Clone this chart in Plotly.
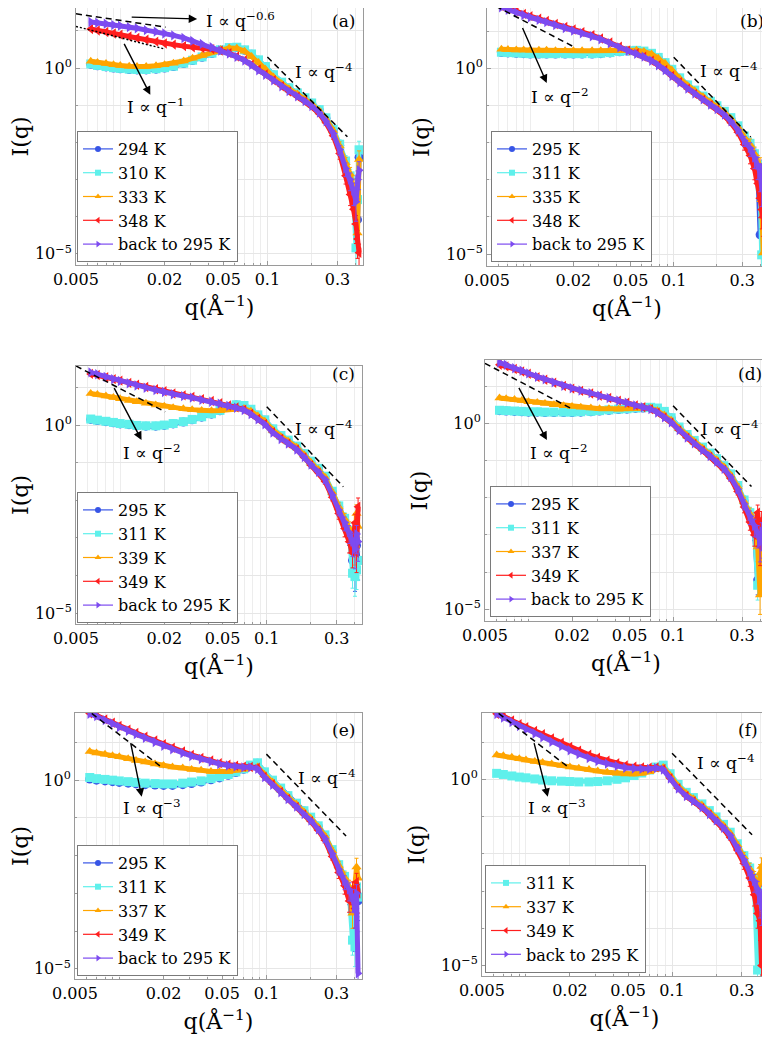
import math
import plotly.graph_objects as go

q = [0.0063, 0.007, 0.008, 0.009, 0.010, 0.0115, 0.013, 0.015, 0.0175, 0.020,
     0.023, 0.027, 0.031, 0.036, 0.042, 0.048, 0.055, 0.062, 0.070, 0.078,
     0.087, 0.097, 0.11, 0.125, 0.14, 0.16, 0.18, 0.20, 0.225, 0.25,
     0.28, 0.31, 0.34, 0.365, 0.385, 0.40, 0.41, 0.42]
rel_err = [0.05, 0.05, 0.05, 0.05, 0.05, 0.05, 0.05, 0.05, 0.05, 0.05,
           0.05, 0.05, 0.05, 0.05, 0.05, 0.05, 0.05, 0.05, 0.05, 0.05,
           0.05, 0.05, 0.06, 0.06, 0.07, 0.08, 0.09, 0.10, 0.12, 0.15,
           0.20, 0.30, 0.40, 0.50, 0.60, 0.70, 0.70, 0.70]

# panel (a)
a_labels = ["294 K", "310 K", "333 K", "348 K", "back to 295 K"]
a_294 = [0.10, 0.06, 0.03, 0.00, -0.02, -0.04, -0.05, -0.05, -0.03, 0.00, 0.04, 0.12, 0.20, 0.29, 0.39, 0.48, 0.54, 0.55, 0.48, 0.37, 0.21,
         0.03, -0.19, -0.39, -0.54, -0.68, -0.81, -0.95, -1.13, -1.35, -1.67, -2.08, -2.55, -3.00, -3.40, -3.20, -4.08, -2.40]
a_310 = [0.11, 0.07, 0.04, 0.01, -0.01, -0.03, -0.04, -0.04, -0.02, 0.01, 0.05, 0.13, 0.21, 0.30, 0.40, 0.49, 0.55, 0.56, 0.49, 0.38, 0.22,
         0.04, -0.18, -0.38, -0.53, -0.67, -0.80, -0.94, -1.12, -1.34, -1.65, -2.05, -2.50, -2.90, -3.30, -4.84, -3.54, -2.20]
a_333 = [0.18, 0.15, 0.12, 0.09, 0.07, 0.05, 0.04, 0.04, 0.06, 0.09, 0.13, 0.19, 0.26, 0.34, 0.43, 0.50, 0.54, 0.53, 0.45, 0.31, 0.15,
         -0.03, -0.24, -0.42, -0.56, -0.70, -0.83, -0.97, -1.15, -1.37, -1.68, -2.10, -2.55, -2.85, -3.20, -3.50, -4.44, -2.46]
a_348 = [1.05, 1.01, 0.97, 0.93, 0.90, 0.85, 0.81, 0.76, 0.71, 0.66, 0.63, 0.59, 0.56, 0.54, 0.51, 0.47, 0.40, 0.31, 0.21, 0.09, -0.04,
         -0.17, -0.33, -0.49, -0.63, -0.77, -0.90, -1.04, -1.23, -1.47, -1.82, -2.30, -2.90, -3.40, -3.80, -4.20, -4.60, -4.97]
a_back = [1.24, 1.22, 1.19, 1.16, 1.14, 1.10, 1.07, 1.02, 0.98, 0.93, 0.88, 0.81, 0.73, 0.65, 0.56, 0.47, 0.39, 0.30, 0.20, 0.09, -0.06,
          -0.18, -0.33, -0.49, -0.62, -0.76, -0.89, -1.02, -1.20, -1.43, -1.76, -2.20, -2.70, -3.00, -3.30, -3.60, -3.00, -2.75]

# panel (b)
b_labels = ["295 K", "311 K", "335 K", "348 K", "back to 295 K"]
b_295 = [0.42, 0.41, 0.40, 0.39, 0.38, 0.38, 0.38, 0.38, 0.38, 0.38, 0.38, 0.38, 0.39, 0.41, 0.44, 0.46, 0.47, 0.45, 0.39, 0.28, 0.14,
         -0.04, -0.27, -0.46, -0.60, -0.76, -0.90, -1.02, -1.17, -1.35, -1.58, -1.86, -2.08, -2.35, -2.70, -4.48, -3.20, -2.90]
b_311 = [0.43, 0.42, 0.41, 0.40, 0.39, 0.39, 0.39, 0.39, 0.39, 0.39, 0.39, 0.39, 0.40, 0.42, 0.45, 0.47, 0.48, 0.46, 0.40, 0.29, 0.15,
         -0.03, -0.26, -0.45, -0.59, -0.75, -0.89, -1.01, -1.16, -1.33, -1.55, -1.82, -2.02, -2.30, -2.60, -3.18, -5.02, -3.54]
b_335 = [0.51, 0.50, 0.49, 0.49, 0.48, 0.48, 0.48, 0.47, 0.47, 0.47, 0.47, 0.47, 0.47, 0.47, 0.48, 0.49, 0.48, 0.45, 0.38, 0.27, 0.13,
         -0.05, -0.28, -0.47, -0.61, -0.77, -0.91, -1.03, -1.18, -1.36, -1.58, -1.86, -2.05, -2.30, -2.55, -2.64, -3.54, -4.97]
b_348 = [1.67, 1.60, 1.53, 1.46, 1.40, 1.33, 1.27, 1.19, 1.11, 1.04, 0.97, 0.89, 0.80, 0.69, 0.58, 0.48, 0.40, 0.31, 0.20, 0.08, -0.05,
         -0.21, -0.38, -0.55, -0.69, -0.85, -0.99, -1.12, -1.28, -1.47, -1.72, -2.05, -2.35, -2.70, -3.10, -3.50, -3.80, -4.00]
b_back = [1.64, 1.57, 1.50, 1.43, 1.37, 1.30, 1.24, 1.16, 1.08, 1.01, 0.94, 0.86, 0.78, 0.67, 0.56, 0.47, 0.39, 0.31, 0.20, 0.08, -0.05,
          -0.21, -0.38, -0.55, -0.68, -0.84, -0.98, -1.10, -1.25, -1.43, -1.66, -1.95, -2.15, -2.40, -2.60, -2.80, -3.20, -2.70]

# panel (c)
c_labels = ["295 K", "311 K", "339 K", "349 K", "back to 295 K"]
c_295 = [0.15, 0.12, 0.09, 0.06, 0.03, 0.01, -0.02, -0.03, -0.03, -0.01, 0.03, 0.08, 0.14, 0.21, 0.29, 0.38, 0.47, 0.53, 0.51, 0.41, 0.26,
         0.13, -0.11, -0.29, -0.41, -0.57, -0.77, -0.97, -1.16, -1.37, -1.78, -2.18, -2.52, -2.90, -3.60, -3.90, -3.20, -3.60]
c_311 = [0.16, 0.13, 0.10, 0.07, 0.04, 0.02, -0.01, -0.02, -0.02, 0.00, 0.04, 0.09, 0.15, 0.22, 0.30, 0.39, 0.48, 0.54, 0.52, 0.42, 0.27,
         0.14, -0.10, -0.28, -0.40, -0.56, -0.76, -0.96, -1.15, -1.36, -1.76, -2.15, -2.48, -2.80, -3.94, -4.03, -3.85, -3.60]
c_339 = [0.84, 0.81, 0.77, 0.73, 0.70, 0.65, 0.62, 0.58, 0.53, 0.50, 0.46, 0.43, 0.41, 0.39, 0.38, 0.39, 0.42, 0.44, 0.44, 0.37, 0.24,
         0.10, -0.13, -0.31, -0.43, -0.59, -0.79, -0.99, -1.18, -1.39, -1.79, -2.18, -2.50, -2.75, -2.96, -3.20, -2.35, -2.70]
c_349 = [1.36, 1.33, 1.27, 1.22, 1.18, 1.12, 1.07, 1.01, 0.95, 0.90, 0.84, 0.79, 0.75, 0.69, 0.64, 0.58, 0.52, 0.47, 0.41, 0.30, 0.16,
         0.03, -0.19, -0.36, -0.49, -0.65, -0.86, -1.07, -1.27, -1.50, -1.92, -2.35, -2.75, -3.10, -3.40, -2.60, -3.40, -2.17]
c_back = [1.40, 1.35, 1.28, 1.22, 1.17, 1.11, 1.05, 0.99, 0.93, 0.88, 0.82, 0.77, 0.73, 0.67, 0.62, 0.57, 0.51, 0.46, 0.40, 0.29, 0.15,
          0.02, -0.20, -0.37, -0.49, -0.65, -0.85, -1.05, -1.24, -1.45, -1.86, -2.26, -2.59, -2.85, -3.10, -3.30, -2.90, -3.10]

# panel (d)
d_labels = ["295 K", "311 K", "337 K", "349 K", "back to 295 K"]
d_295 = [0.34, 0.33, 0.32, 0.31, 0.30, 0.30, 0.29, 0.29, 0.29, 0.29, 0.30, 0.31, 0.33, 0.35, 0.37, 0.38, 0.40, 0.41, 0.42, 0.40, 0.31,
         0.14, -0.11, -0.31, -0.47, -0.65, -0.81, -0.96, -1.15, -1.37, -1.69, -2.09, -2.45, -2.85, -4.21, -3.50, -3.30, -3.00]
d_311 = [0.35, 0.34, 0.33, 0.32, 0.31, 0.31, 0.30, 0.30, 0.30, 0.30, 0.31, 0.32, 0.34, 0.36, 0.38, 0.39, 0.41, 0.42, 0.43, 0.41, 0.32,
         0.15, -0.10, -0.30, -0.46, -0.64, -0.80, -0.95, -1.14, -1.36, -1.67, -2.06, -2.40, -2.78, -4.35, -4.03, -3.14, -3.40]
d_337 = [0.68, 0.66, 0.64, 0.61, 0.58, 0.56, 0.53, 0.50, 0.47, 0.45, 0.43, 0.41, 0.39, 0.39, 0.38, 0.39, 0.40, 0.42, 0.41, 0.34, 0.22,
         0.08, -0.13, -0.33, -0.49, -0.67, -0.83, -0.98, -1.17, -1.39, -1.70, -2.10, -2.42, -2.70, -3.32, -4.61, -2.78, -3.00]
d_349 = [1.57, 1.53, 1.46, 1.39, 1.33, 1.24, 1.17, 1.09, 1.00, 0.93, 0.87, 0.80, 0.74, 0.68, 0.61, 0.55, 0.48, 0.43, 0.38, 0.29, 0.16,
         0.02, -0.19, -0.39, -0.55, -0.73, -0.90, -1.05, -1.25, -1.48, -1.83, -2.25, -2.65, -3.00, -2.40, -3.30, -2.60, -2.80]
d_back = [1.63, 1.57, 1.48, 1.41, 1.34, 1.25, 1.18, 1.10, 1.01, 0.94, 0.88, 0.81, 0.74, 0.68, 0.61, 0.55, 0.48, 0.43, 0.38, 0.29, 0.16,
          0.03, -0.18, -0.38, -0.54, -0.72, -0.88, -1.03, -1.22, -1.44, -1.77, -2.17, -2.50, -2.75, -2.95, -3.20, -2.90, -3.10]

# panel (e)
e_labels = ["295 K", "311 K", "337 K", "349 K", "back to 295 K"]
e_295 = [0.03, 0.00, -0.02, -0.04, -0.06, -0.08, -0.10, -0.12, -0.13, -0.14, -0.14, -0.12, -0.09, -0.05, 0.01, 0.06, 0.13, 0.20, 0.29, 0.39, 0.45,
         0.21, -0.01, -0.22, -0.42, -0.62, -0.82, -0.99, -1.22, -1.47, -1.87, -2.28, -2.62, -3.00, -3.50, -4.02, -3.00, -3.20]
e_311 = [0.07, 0.04, 0.02, 0.00, -0.02, -0.04, -0.06, -0.08, -0.09, -0.10, -0.10, -0.08, -0.05, -0.02, 0.04, 0.09, 0.15, 0.22, 0.30, 0.40, 0.46,
         0.22, 0.00, -0.21, -0.41, -0.61, -0.81, -0.98, -1.21, -1.45, -1.84, -2.24, -2.55, -2.90, -4.24, -4.42, -2.83, -3.10]
e_337 = [0.76, 0.72, 0.69, 0.65, 0.62, 0.57, 0.52, 0.48, 0.43, 0.39, 0.35, 0.32, 0.28, 0.26, 0.23, 0.22, 0.23, 0.26, 0.29, 0.33, 0.35,
         0.15, -0.05, -0.25, -0.44, -0.64, -0.84, -1.01, -1.24, -1.48, -1.87, -2.27, -2.58, -2.83, -3.53, -2.83, -2.30, -2.60]
e_349 = [1.77, 1.72, 1.61, 1.52, 1.44, 1.34, 1.25, 1.15, 1.05, 0.95, 0.86, 0.76, 0.67, 0.59, 0.52, 0.45, 0.41, 0.38, 0.36, 0.35, 0.33,
         0.09, -0.11, -0.31, -0.50, -0.71, -0.91, -1.09, -1.33, -1.59, -2.02, -2.45, -2.80, -3.20, -2.90, -3.40, -2.70, -3.00]
e_back = [1.76, 1.70, 1.59, 1.50, 1.41, 1.31, 1.22, 1.12, 1.01, 0.91, 0.82, 0.72, 0.64, 0.56, 0.49, 0.43, 0.39, 0.36, 0.34, 0.34, 0.30,
          0.08, -0.12, -0.32, -0.50, -0.70, -0.90, -1.07, -1.30, -1.55, -1.95, -2.36, -2.68, -2.90, -3.10, -3.40, -3.00, -5.12]

# panel (f)
f_labels = ["311 K", "337 K", "349 K", "back to 295 K"]
f_311 = [0.16, 0.13, 0.09, 0.06, 0.04, 0.01, -0.02, -0.04, -0.05, -0.06, -0.07, -0.07, -0.06, -0.04, 0.00, 0.04, 0.10, 0.17, 0.25, 0.33, 0.38,
         0.15, -0.14, -0.35, -0.49, -0.66, -0.84, -1.01, -1.21, -1.42, -1.73, -2.05, -2.38, -2.70, -5.12, -3.60, -2.70, -3.00]
f_337 = [0.65, 0.63, 0.59, 0.55, 0.52, 0.48, 0.45, 0.41, 0.37, 0.33, 0.30, 0.26, 0.22, 0.19, 0.16, 0.14, 0.14, 0.16, 0.20, 0.27, 0.32,
         0.10, -0.18, -0.38, -0.52, -0.69, -0.87, -1.04, -1.24, -1.45, -1.76, -2.08, -2.40, -2.65, -3.06, -2.52, -2.34, -2.80]
f_349 = [1.76, 1.70, 1.58, 1.48, 1.40, 1.30, 1.21, 1.10, 0.98, 0.87, 0.77, 0.66, 0.58, 0.50, 0.43, 0.37, 0.34, 0.32, 0.31, 0.32, 0.28,
         0.03, -0.24, -0.45, -0.59, -0.77, -0.95, -1.13, -1.34, -1.56, -1.90, -2.26, -2.65, -3.10, -3.60, -3.80, -5.00, -3.50]
f_back = [1.75, 1.66, 1.54, 1.43, 1.34, 1.23, 1.13, 1.01, 0.89, 0.78, 0.68, 0.57, 0.49, 0.42, 0.36, 0.31, 0.29, 0.28, 0.28, 0.30, 0.26,
          0.02, -0.25, -0.45, -0.58, -0.75, -0.93, -1.10, -1.30, -1.51, -1.83, -2.16, -2.49, -2.73, -2.95, -3.20, -3.40, -3.10]

# guide lines (q endpoints, log10 I endpoints)
guide_a_low1_q = [0.005, 0.0203]; guide_a_low1_I = [1.46, 1.10]   # q^-0.6
guide_a_low2_q = [0.005, 0.0197]; guide_a_low2_I = [1.12, 0.52]   # q^-1
guide_b_low_q = [0.005, 0.020];   guide_b_low_I = [1.79, 0.58]
guide_c_low_q = [0.005, 0.0203];  guide_c_low_I = [1.57, 0.354]
guide_d_low_q = [0.005, 0.0197];  guide_d_low_I = [1.61, 0.40]
guide_e_low_q = [0.0065, 0.0199]; guide_e_low_I = [1.77, 0.31]
guide_f_low_q = [0.0065, 0.0196]; guide_f_low_I = [1.77, 0.32]
guide_hi_q = {"a": [0.1, 0.35], "b": [0.1, 0.344], "c": [0.1, 0.333],
              "d": [0.1, 0.349], "e": [0.1, 0.348], "f": [0.1, 0.353]}
guide_hi_I = {"a": [0.296, -1.85], "b": [0.296, -1.85], "c": [0.487, -1.64],
              "d": [0.47, -1.70], "e": [0.69, -1.48], "f": [0.70, -1.49]}

# arrows: (tail q, tail logI, head q, head logI)
arrows = {"a": [(0.01168, 1.37, 0.0333, 1.32), (0.0105, 0.69, 0.016, -0.72)],
          "b": [(0.00875, 1.12, 0.01304, -0.40)],
          "c": [(0.009, 1.02, 0.014, -0.40)],
          "d": [(0.00847, 0.99, 0.0134, -0.45)],
          "e": [(0.0119, 1.02, 0.0142, -0.44)],
          "f": [(0.0113, 1.01, 0.0141, -0.47)]}
# labels: (text, q, logI, xanchor)
texts = {"a": [("I ∝ q<sup>−0.6</sup>", 0.037, 1.29, "left"), ("I ∝ q<sup>−1</sup>", 0.0173, -1.03, "center"),
               ("I ∝ q<sup>−4</sup>", 0.15, -0.09, "left")],
         "b": [("I ∝ q<sup>−2</sup>", 0.0161, -0.76, "center"), ("I ∝ q<sup>−4</sup>", 0.147, -0.045, "left")],
         "c": [("I ∝ q<sup>−2</sup>", 0.0164, -0.71, "center"), ("I ∝ q<sup>−4</sup>", 0.152, -0.09, "left")],
         "d": [("I ∝ q<sup>−2</sup>", 0.0160, -0.76, "center"), ("I ∝ q<sup>−4</sup>", 0.150, -0.13, "left")],
         "e": [("I ∝ q<sup>−3</sup>", 0.0166, -0.71, "center"), ("I ∝ q<sup>−4</sup>", 0.159, 0.09, "left")],
         "f": [("I ∝ q<sup>−3</sup>", 0.0163, -0.73, "center"), ("I ∝ q<sup>−4</sup>", 0.144, 0.47, "left")]}

# ---------------- styles ----------------
COL = {"blue": "rgb(55,85,230)", "cyan": "rgb(95,240,235)", "orange": "rgb(255,165,0)",
       "red": "rgb(255,30,30)", "purple": "rgb(125,75,240)"}
SYM = {"blue": "circle", "cyan": "square", "orange": "triangle-up",
       "red": "triangle-left", "purple": "triangle-right"}
FONT = "DejaVu Serif, serif"

# panel boxes in page pixels (left, right, top, bottom), y range, legend corner (left, bottom),
# panel-letter centre (x, y)
panels = [
    ("a", a_labels, [a_294, a_310, a_333, a_348, a_back], ["blue", "cyan", "orange", "red", "purple"],
     (76, 363, 3, 265), (-5.30, 1.75), (77, 262), (343, 21)),
    ("b", b_labels, [b_295, b_311, b_335, b_348, b_back], ["blue", "cyan", "orange", "red", "purple"],
     (487, 767, 2, 266), (-5.32, 1.78), (491, 262), (752, 21)),
    ("c", c_labels, [c_295, c_311, c_339, c_349, c_back], ["blue", "cyan", "orange", "red", "purple"],
     (76, 362, 366, 624), (-5.29, 1.57), (77, 623), (343, 374)),
    ("d", d_labels, [d_295, d_311, d_337, d_349, d_back], ["blue", "cyan", "orange", "red", "purple"],
     (485, 767, 360, 621), (-5.31, 1.70), (490, 617), (750, 374)),
    ("e", e_labels, [e_295, e_311, e_337, e_349, e_back], ["blue", "cyan", "orange", "red", "purple"],
     (75, 362, 713, 979), (-5.27, 1.78), (77, 976), (343, 730)),
    ("f", f_labels, [f_311, f_337, f_349, f_back], ["cyan", "orange", "red", "purple"],
     (482, 767, 713, 976), (-5.28, 1.78), (485, 973), (748, 730)),
]
DASH = "6px,4px"
low_guides = {"a": [(guide_a_low1_q, guide_a_low1_I, DASH), (guide_a_low2_q, guide_a_low2_I, "2px,2px")],
              "b": [(guide_b_low_q, guide_b_low_I, DASH)],
              "c": [(guide_c_low_q, guide_c_low_I, DASH)],
              "d": [(guide_d_low_q, guide_d_low_I, DASH)],
              "e": [(guide_e_low_q, guide_e_low_I, DASH)],
              "f": [(guide_f_low_q, guide_f_low_I, DASH)]}

OFF = 8                      # page body margin of the browser
W, H = 770 - OFF, 1040 - OFF
x_minor = [0.006, 0.007, 0.008, 0.009, 0.01, 0.03, 0.04, 0.06, 0.07, 0.08, 0.09, 0.2, 0.4]
fig = go.Figure()
layout = dict(width=W, height=H, margin=dict(l=0, r=0, t=0, b=0, autoexpand=False),
              paper_bgcolor="white", plot_bgcolor="white",
              font=dict(family=FONT, color="black"), showlegend=True)
annotations = []

for i, (key, labels, series, colors, box, yr, leg, tag) in enumerate(panels, start=1):
    xa = "x" if i == 1 else f"x{i}"
    ya = "y" if i == 1 else f"y{i}"
    lg = "legend" if i == 1 else f"legend{i}"
    for lab, vals, c in zip(labels, series, colors):
        I = [10 ** v for v in vals]
        err = [a * b for a, b in zip(I, rel_err)]
        fig.add_trace(go.Scatter(
            x=q, y=I, name=lab, mode="lines+markers", xaxis=xa, yaxis=ya, showlegend=False,
            line=dict(color=COL[c], width=5),
            marker=dict(symbol=SYM[c], size=9, color=COL[c]),
            error_y=dict(type="data", array=err, color=COL[c], thickness=1, width=2)))
    for lab, c in zip(labels, colors):           # legend keys (thin line + small marker)
        fig.add_trace(go.Scatter(
            x=[None], y=[None], name=lab, mode="lines+markers", xaxis=xa, yaxis=ya, legend=lg,
            line=dict(color=COL[c], width=1.2), marker=dict(symbol=SYM[c], size=6, color=COL[c])))
    for gq, gI, dash in low_guides[key] + [(guide_hi_q[key], guide_hi_I[key], DASH)]:
        fig.add_trace(go.Scatter(x=gq, y=[10 ** v for v in gI], mode="lines", xaxis=xa, yaxis=ya,
                                 showlegend=False, hoverinfo="skip",
                                 line=dict(color="black", width=1.5, dash=dash)))
    x0, x1, y0, y1 = [v - OFF for v in box]
    ylo, yhi = yr
    ppd = (y1 - y0) / (yhi - ylo)
    if y0 < 0:                       # clip at the top of the page, keep the scale
        yhi = yhi + y0 / ppd
        y0 = 0
    axcommon = dict(showline=True, mirror=True, linecolor="#9a9a9a", linewidth=1,
                    ticks="inside", ticklen=4, tickcolor="#9a9a9a", zeroline=False,
                    showgrid=True, gridcolor="#e6e6e6", automargin=False,
                    tickfont=dict(size=16, family=FONT))
    layout["xaxis" if i == 1 else f"xaxis{i}"] = dict(
        type="log", domain=[x0 / W, min(x1 / W, 1.0)], anchor=ya, range=[-2.301, -0.35],
        tickvals=[0.005, 0.02, 0.05, 0.1, 0.3], ticktext=["0.005", "0.02", "0.05", "0.1", "0.3"],
        minor=dict(tickvals=x_minor, showgrid=True, gridcolor="#ededed", ticks="inside",
                   ticklen=2, tickcolor="#9a9a9a"),
        title=dict(text="q(Å<sup>−1</sup>)", font=dict(size=22, family=FONT), standoff=11),
        **axcommon)
    layout["yaxis" if i == 1 else f"yaxis{i}"] = dict(
        type="log", domain=[1 - y1 / H, 1 - y0 / H], anchor=xa, range=[ylo, yhi],
        tickvals=[1e-5, 1], ticktext=["10<sup>−5</sup>", "10<sup>0</sup>"],
        minor=dict(tickvals=[1e-4, 1e-3, 1e-2, 1e-1, 10], showgrid=True, gridcolor="#e6e6e6",
                   ticks="inside", ticklen=2, tickcolor="#9a9a9a"),
        title=dict(text="I(q)", font=dict(size=22, family=FONT), standoff=10),
        **axcommon)
    layout[lg] = dict(x=(leg[0] - OFF) / W, y=1 - (leg[1] - OFF) / H, xanchor="left", yanchor="bottom",
                      bgcolor="white", bordercolor="#7a7a7a", borderwidth=1,
                      font=dict(size=16, family=FONT), itemwidth=30, tracegroupgap=0)
    for tq, tI, hq, hI in arrows[key]:
        annotations.append(dict(x=math.log10(hq), y=hI, ax=math.log10(tq), ay=tI,
                                xref=xa, yref=ya, axref=xa, ayref=ya, text="",
                                showarrow=True, arrowhead=2, arrowsize=1.2, arrowwidth=1.4,
                                arrowcolor="black"))
    for txt, tq, tI, anc in texts[key]:
        annotations.append(dict(x=math.log10(tq), y=tI, xref=xa, yref=ya, text=txt,
                                showarrow=False, xanchor=anc, yanchor="middle",
                                font=dict(size=17, family=FONT)))
    annotations.append(dict(x=(tag[0] - OFF) / W, y=1 - (tag[1] - OFF) / H, xref="paper", yref="paper",
                            text=f"({key})", showarrow=False, xanchor="center", yanchor="middle",
                            font=dict(size=17, family=FONT)))

layout["annotations"] = annotations
fig.update_layout(**layout)
fig.write_html("out.html")
